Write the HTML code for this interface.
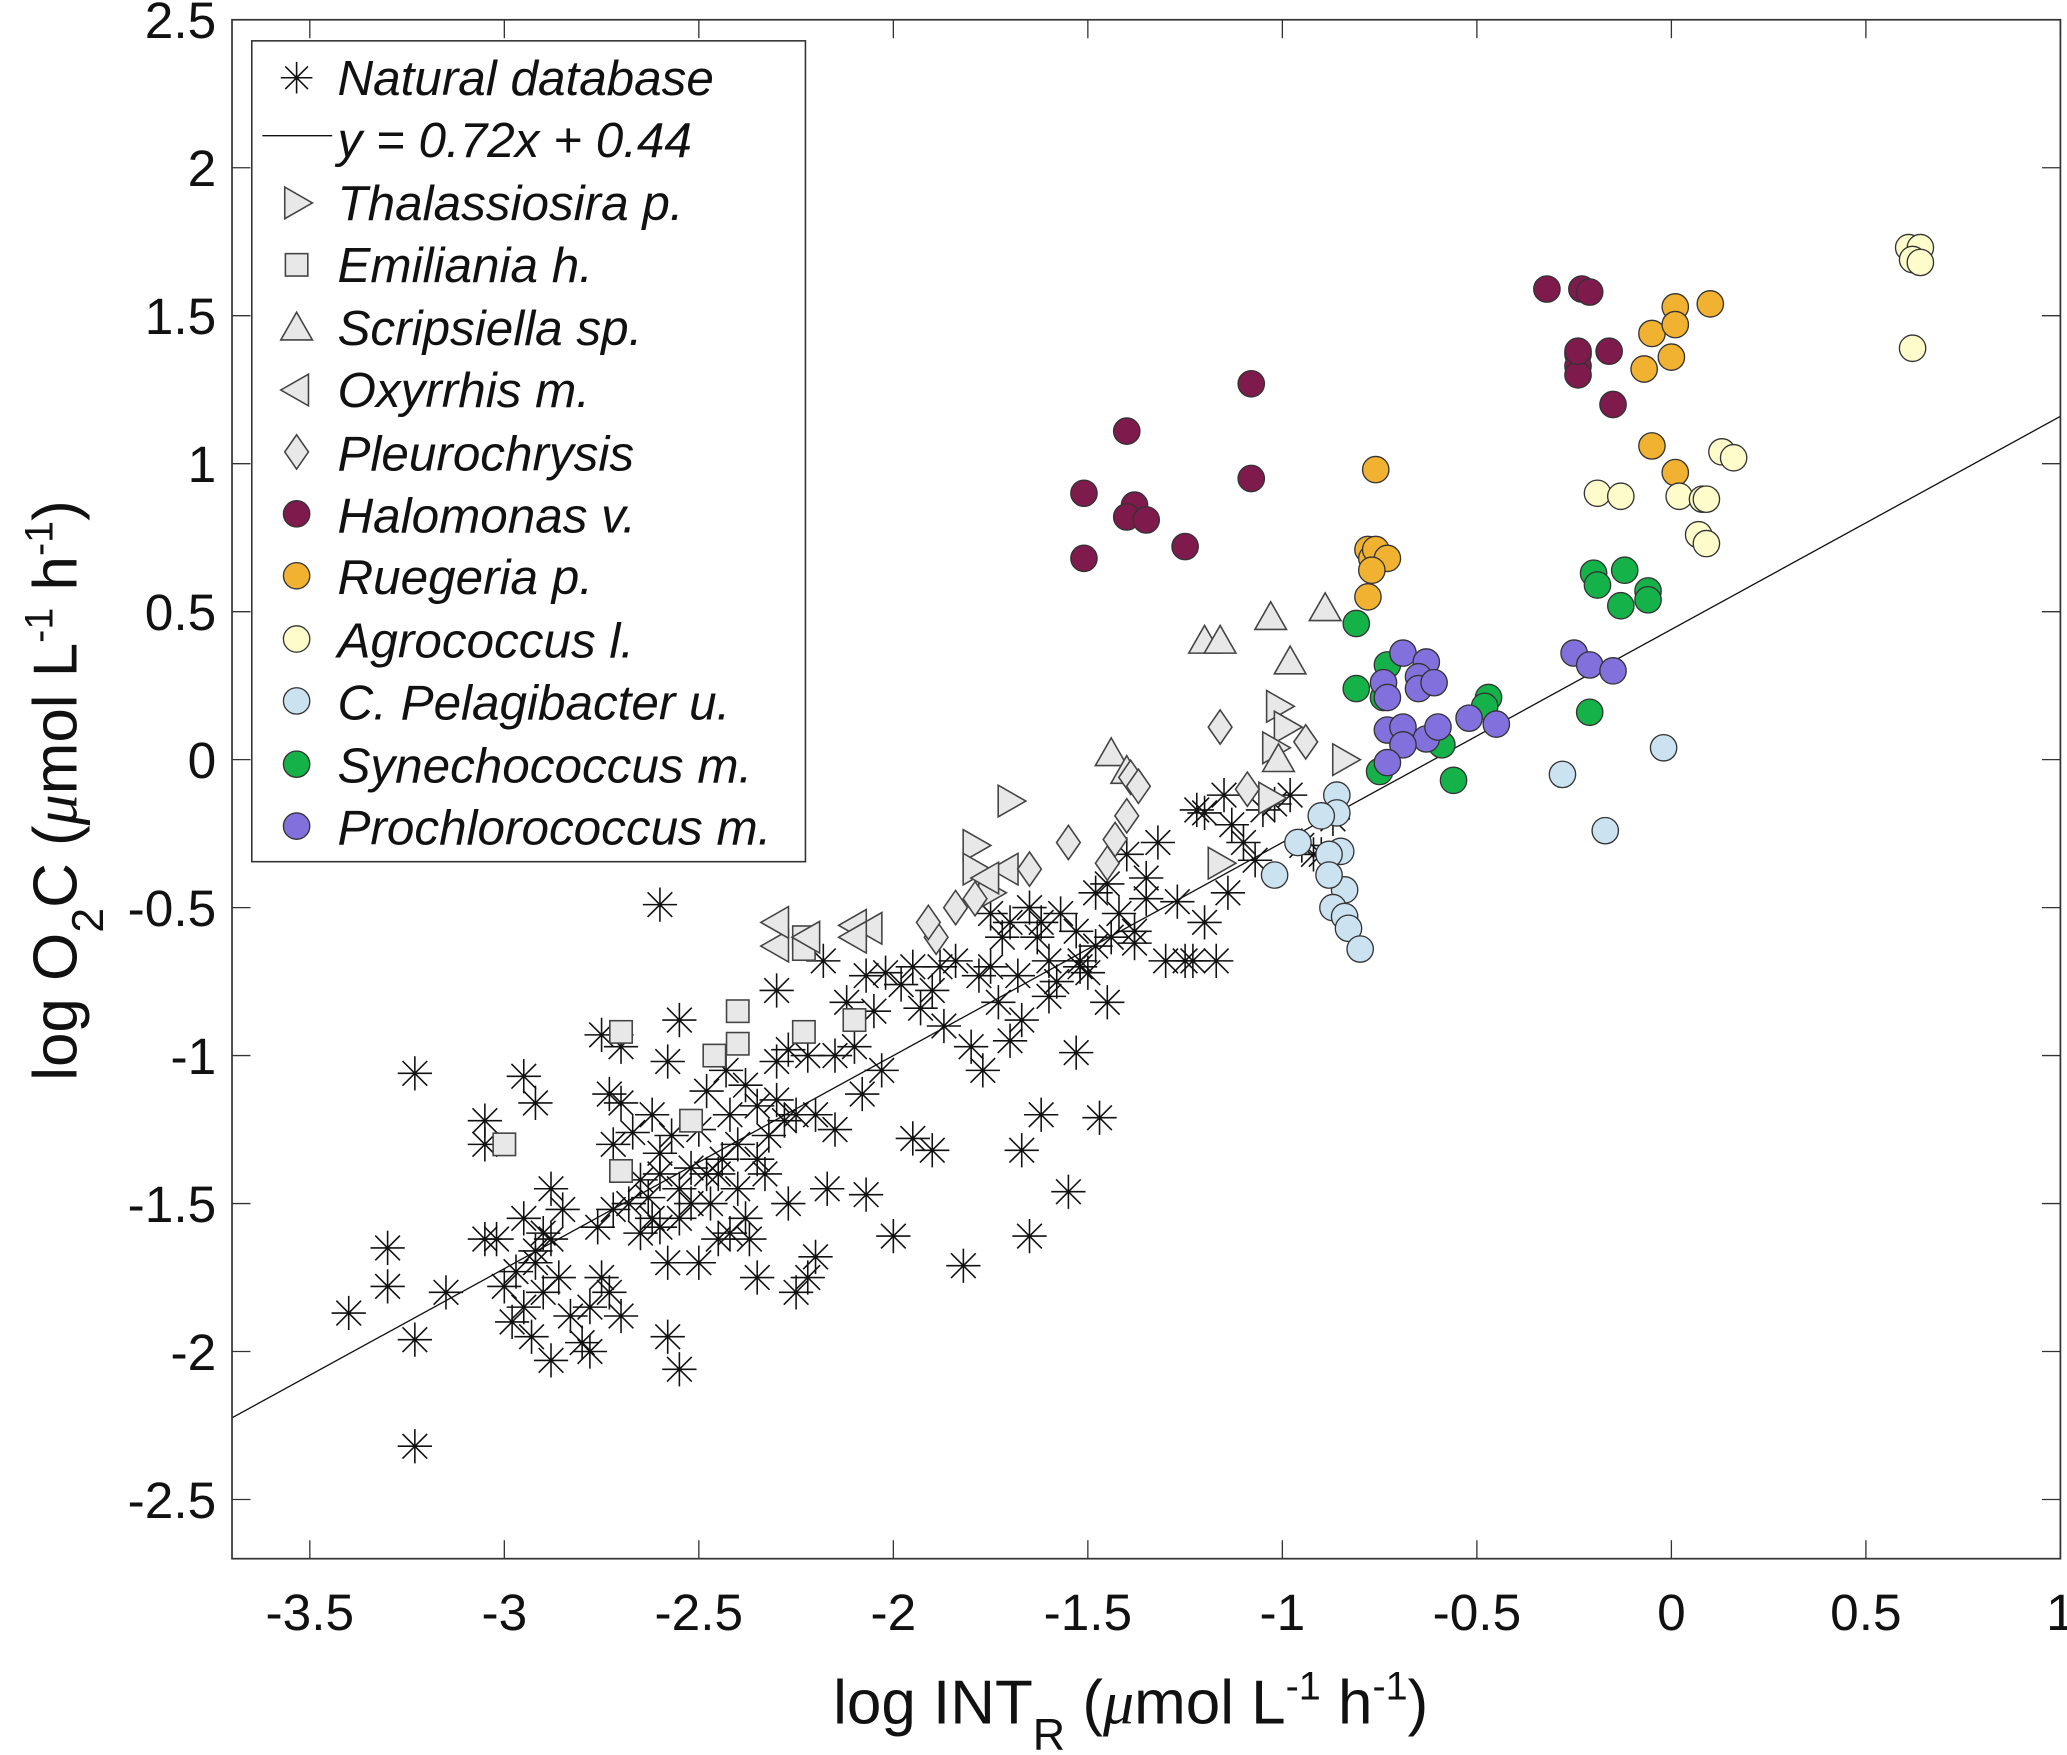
<!DOCTYPE html>
<html><head><meta charset="utf-8"><style>
html,body{margin:0;padding:0;background:#fff;}
svg{display:block;}
text{font-family:"Liberation Sans",Arial,sans-serif;fill:#111;}
</style></head><body>
<svg id="chart" width="2067" height="1755" viewBox="0 0 1568 1332" preserveAspectRatio="none" xmlns="http://www.w3.org/2000/svg">
<rect x="0" y="0" width="1568" height="1332" fill="#fff"/>
<g id="plot"></g>
<g id="axes"></g>
<g id="legend"></g>
</svg>
<script>
const xTicks=[-3.5,-3,-2.5,-2,-1.5,-1,-0.5,0,0.5,1];
const xTickLabels=["-3.5","-3","-2.5","-2","-1.5","-1","-0.5","0","0.5","1"];
const yTicks=[2.5,2,1.5,1,0.5,0,-0.5,-1,-1.5,-2,-2.5];
const yTickLabels=["2.5","2","1.5","1","0.5","0","-0.5","-1","-1.5","-2","-2.5"];
const fitSlope=0.72, fitIntercept=0.44;
const natX=[-3.40,-3.23,-3.23,-3.30,-3.30,-3.23,-3.15,-2.60,-2.58,-2.55,-1.82,-1.65,-1.55,-1.47,-1.53,-1.62,-1.67,-2.00,-1.90,-1.95,-2.07,-2.17,-1.22,-1.20,-1.45,-1.23,-1.14,-1.07,-0.95,-0.92,
-3.05,-3.05,-3.02,-3.05,-2.97,-2.95,-2.93,-2.98,-2.90,-2.92,-2.90,-2.88,-2.95,-2.92,-2.88,-2.85,-2.86,-2.83,-2.80,-2.88,-2.78,-2.75,-2.73,-2.72,-2.76,-2.78,-2.70,-2.95,-3.00,-2.92,
-2.75,-2.70,-2.73,-2.70,-2.72,-2.67,-2.65,-2.68,-2.62,-2.60,-2.62,-2.58,-2.55,-2.57,-2.55,-2.55,-2.52,-2.50,-2.50,-2.48,-2.47,-2.65,-2.60,-2.58,-2.63,-2.45,-2.45,
-2.43,-2.42,-2.40,-2.40,-2.38,-2.37,-2.35,-2.35,-2.33,-2.32,-2.30,-2.30,-2.28,-2.27,-2.25,-2.25,-2.22,-2.22,-2.20,-2.27,-2.38,-2.42,-2.18,-2.15,
-2.12,-2.10,-2.07,-2.05,-2.03,-2.02,-1.98,-1.95,-1.93,-1.90,-1.88,-1.87,-2.08,
-1.84,-1.80,-1.78,-1.77,-1.75,-1.73,-1.72,-1.70,-1.68,-1.67,-1.65,-1.63,-1.60,-1.58,-1.57,-1.70,-1.75,
-1.53,-1.52,-1.50,-1.48,-1.48,-1.45,-1.42,-1.40,-1.38,-1.35,-1.32,-1.30,-1.27,-1.25,-1.20,-1.17,-1.15,-1.13,-1.10,-1.05,-1.02,-0.98,-0.90,-0.87,-1.35,-1.44,
-2.48,-2.35,-2.20,-2.60,-2.52,-2.44,-2.30,-2.15,-1.60,-1.52,-1.38,-1.62];
const natY=[-1.87,-2.32,-1.06,-1.65,-1.78,-1.96,-1.80,-0.49,-1.95,-2.06,-1.71,-1.61,-1.46,-1.21,-0.99,-1.20,-1.32,-1.61,-1.32,-1.28,-1.47,-1.45,-0.17,-0.18,-0.82,-0.68,-0.45,-0.34,-0.29,-0.32,
-1.22,-1.30,-1.62,-1.62,-1.73,-1.85,-1.95,-1.90,-1.80,-1.70,-1.60,-1.62,-1.07,-1.16,-1.45,-1.52,-1.75,-1.88,-1.97,-2.03,-2.00,-1.75,-1.80,-1.52,-1.58,-1.85,-1.88,-1.55,-1.78,-1.66,
-0.93,-0.97,-1.13,-1.16,-1.30,-1.26,-1.42,-1.50,-1.55,-1.33,-1.20,-1.02,-0.88,-1.27,-1.45,-1.55,-1.38,-1.25,-1.70,-1.12,-1.50,-1.60,-1.58,-1.70,-1.48,-1.40,-1.62,
-1.05,-1.20,-1.30,-1.45,-1.55,-1.62,-1.17,-1.75,-1.40,-1.27,-0.78,-1.02,-1.22,-1.50,-1.20,-1.80,-1.75,-1.00,-1.68,-0.98,-1.10,-1.60,-0.68,-1.25,
-0.82,-0.97,-0.73,-0.85,-1.05,-0.72,-0.76,-0.70,-0.84,-0.78,-0.70,-0.90,-1.13,
-0.68,-0.97,-0.73,-1.05,-0.70,-0.82,-0.60,-0.55,-0.73,-0.88,-0.50,-0.60,-0.68,-0.75,-0.52,-0.95,-0.52,
-0.58,-0.68,-0.72,-0.45,-0.63,-0.42,-0.52,-0.32,-0.58,-0.47,-0.28,-0.68,-0.48,-0.68,-0.55,-0.68,-0.12,-0.22,-0.28,-0.17,-0.15,-0.12,-0.32,-0.20,-0.40,-0.60,
-1.40,-1.35,-1.20,-1.40,-1.50,-1.35,-1.15,-1.00,-0.80,-0.70,-0.62,-0.55];
const thalX=[-1.01,-0.99,-1.02,-0.84,-1.70,-1.79,-1.03,-1.16,-1.79,-1.75];
const thalY=[0.18,0.11,0.04,0.00,-0.14,-0.29,-0.13,-0.35,-0.37,-0.45];
const emilX=[-2.70,-2.40,-2.40,-2.23,-2.23,-2.23,-2.10,-2.52,-2.70,-3.00,-2.46];
const emilY=[-0.92,-0.85,-0.96,-0.60,-0.64,-0.92,-0.88,-1.22,-1.39,-1.30,-1.00];
const scriX=[-1.03,-0.89,-1.20,-1.16,-0.98,-1.44,-1.01,-1.40];
const scriY=[0.48,0.51,0.40,0.40,0.33,0.02,0.00,-0.04];
const oxyX=[-2.30,-2.10,-2.06,-2.22,-2.10,-1.71,-1.76,-2.30];
const oxyY=[-0.63,-0.56,-0.57,-0.60,-0.60,-0.37,-0.40,-0.55];
const pleuX=[-1.16,-0.94,-1.39,-1.37,-1.09,-1.55,-1.43,-1.40,-1.89,-1.84,-1.79,-1.65,-1.91,-1.45];
const pleuY=[0.11,0.06,-0.06,-0.09,-0.10,-0.28,-0.27,-0.19,-0.60,-0.50,-0.47,-0.37,-0.55,-0.35];
const haloX=[-1.51,-1.51,-1.40,-1.38,-1.40,-1.35,-1.25,-1.08,-1.08,-0.32,-0.23,-0.21,-0.24,-0.24,-0.24,-0.16,-0.15,-0.24];
const haloY=[0.90,0.68,1.11,0.86,0.82,0.81,0.72,1.27,0.95,1.59,1.59,1.58,1.37,1.33,1.30,1.38,1.20,1.38];
const ruegX=[-0.76,-0.78,-0.77,-0.76,-0.73,-0.77,-0.78,0.01,-0.05,0.01,0.10,0.00,-0.07,-0.05,0.01];
const ruegY=[0.98,0.71,0.68,0.71,0.68,0.64,0.55,1.53,1.44,1.47,1.54,1.36,1.32,1.06,0.97];
const agroX=[0.61,0.64,0.62,0.64,0.62,-0.19,-0.13,0.02,0.08,0.07,0.09,0.13,0.16,0.09];
const agroY=[1.73,1.73,1.69,1.68,1.39,0.90,0.89,0.89,0.88,0.76,0.73,1.04,1.02,0.88];
const pelaX=[-0.86,-0.86,-0.96,-0.85,-0.88,-0.84,-0.88,-1.02,-0.87,-0.84,-0.83,-0.80,-0.28,-0.02,-0.17,-0.90];
const pelaY=[-0.12,-0.18,-0.28,-0.31,-0.32,-0.44,-0.39,-0.39,-0.50,-0.53,-0.57,-0.64,-0.05,0.04,-0.24,-0.19];
const synX=[-0.81,-0.73,-0.81,-0.74,-0.47,-0.48,-0.56,-0.75,-0.59,-0.21,-0.20,-0.19,-0.12,-0.06,-0.06,-0.13];
const synY=[0.46,0.32,0.24,0.21,0.21,0.18,-0.07,-0.04,0.05,0.16,0.63,0.59,0.64,0.57,0.54,0.52];
const prochX=[-0.69,-0.63,-0.65,-0.65,-0.61,-0.74,-0.73,-0.73,-0.69,-0.63,-0.60,-0.69,-0.73,-0.52,-0.45,-0.25,-0.21,-0.15];
const prochY=[0.36,0.33,0.28,0.24,0.26,0.26,0.21,0.10,0.11,0.07,0.11,0.05,-0.01,0.14,0.12,0.36,0.32,0.30];

const X0=176,X1=1563,Y0=15,Y1=1183;
const xMin=-3.7,xMax=1.0,yMin=-2.7,yMax=2.5;
function sx(v){return X0+(v-xMin)/(xMax-xMin)*(X1-X0);}
function sy(v){return Y1-(v-yMin)/(yMax-yMin)*(Y1-Y0);}
const NS="http://www.w3.org/2000/svg";
function mk(tag,attrs,parent){const e=document.createElementNS(NS,tag);for(const k in attrs)e.setAttribute(k,attrs[k]);parent.appendChild(e);return e;}
const plot=document.getElementById('plot'),axes=document.getElementById('axes');

function asterisk(cx,cy,r,parent){
  const d=r*0.72;
  return mk('path',{d:`M${cx-r},${cy}H${cx+r}M${cx},${cy-r}V${cy+r}M${cx-d},${cy-d}L${cx+d},${cy+d}M${cx-d},${cy+d}L${cx+d},${cy-d}`,stroke:'#111','stroke-width':1.2,fill:'none'},parent);
}
function shape(kind,cx,cy,fill,parent){
  const g='#444';
  if(kind==='circle')return mk('circle',{cx:cx,cy:cy,r:10,fill:fill,stroke:'#333','stroke-width':1},parent);
  if(kind==='square')return mk('rect',{x:cx-8.5,y:cy-8.5,width:17,height:17,fill:fill,stroke:g,'stroke-width':1.2},parent);
  if(kind==='tri-up')return mk('polygon',{points:`${cx},${cy-12} ${cx+12},${cy+9} ${cx-12},${cy+9}`,fill:fill,stroke:g,'stroke-width':1.2},parent);
  if(kind==='tri-right')return mk('polygon',{points:`${cx+12},${cy} ${cx-9},${cy-12} ${cx-9},${cy+12}`,fill:fill,stroke:g,'stroke-width':1.2},parent);
  if(kind==='tri-left')return mk('polygon',{points:`${cx-12},${cy} ${cx+9},${cy-12} ${cx+9},${cy+12}`,fill:fill,stroke:g,'stroke-width':1.2},parent);
  if(kind==='diamond')return mk('polygon',{points:`${cx},${cy-13} ${cx+9},${cy} ${cx},${cy+13} ${cx-9},${cy}`,fill:fill,stroke:g,'stroke-width':1.2},parent);
}

natX.forEach((v,i)=>{
  const el=asterisk(sx(v),sy(natY[i]),13,plot);
  
  
});
const fl=mk('line',{x1:sx(xMin),y1:sy(fitSlope*xMin+fitIntercept),x2:sx(xMax),y2:sy(fitSlope*xMax+fitIntercept),stroke:'#111','stroke-width':1},plot);



const series=[
 {xs:thalX,ys:thalY,kind:'tri-right',fill:'#e8e8e8',name:'thalassiosira-point'},
 {xs:emilX,ys:emilY,kind:'square',fill:'#e8e8e8',name:'emiliania-point'},
 {xs:scriX,ys:scriY,kind:'tri-up',fill:'#e8e8e8',name:'scripsiella-point'},
 {xs:oxyX,ys:oxyY,kind:'tri-left',fill:'#e8e8e8',name:'oxyrrhis-point'},
 {xs:pleuX,ys:pleuY,kind:'diamond',fill:'#e8e8e8',name:'pleurochrysis-point'},
 {xs:haloX,ys:haloY,kind:'circle',fill:'#7f1a4c',name:'halomonas-point'},
 {xs:ruegX,ys:ruegY,kind:'circle',fill:'#f1b131',name:'ruegeria-point'},
 {xs:agroX,ys:agroY,kind:'circle',fill:'#fdfcca',name:'agrococcus-point'},
 {xs:pelaX,ys:pelaY,kind:'circle',fill:'#cbe3f0',name:'pelagibacter-point'},
 {xs:synX,ys:synY,kind:'circle',fill:'#15b24a',name:'synechococcus-point'},
 {xs:prochX,ys:prochY,kind:'circle',fill:'#8271dc',name:'prochlorococcus-point'}
];
series.forEach(s=>{
  s.xs.forEach((v,i)=>{
    const el=shape(s.kind,sx(v),sy(s.ys[i]),s.fill,plot);
    
    
  });
});

const box=mk('rect',{x:X0,y:Y0,width:X1-X0,height:Y1-Y0,fill:'none',stroke:'#333','stroke-width':1.3},axes);


xTicks.forEach((v,i)=>{
  const x=sx(v);
  mk('line',{x1:x,y1:Y1,x2:x,y2:Y1-14,stroke:'#333','stroke-width':1},axes);
  mk('line',{x1:x,y1:Y0,x2:x,y2:Y0+14,stroke:'#333','stroke-width':1},axes);
  const t=mk('text',{x:x,y:1237,'text-anchor':'middle','font-size':39},axes);
  t.textContent=xTickLabels[i];
  
  
});
yTicks.forEach((v,i)=>{
  const y=sy(v);
  mk('line',{x1:X0,y1:y,x2:X0+14,y2:y,stroke:'#333','stroke-width':1},axes);
  mk('line',{x1:X1,y1:y,x2:X1-14,y2:y,stroke:'#333','stroke-width':1},axes);
  const t=mk('text',{x:164,y:y+14,'text-anchor':'end','font-size':39},axes);
  t.textContent=yTickLabels[i];
  
  
});
</script>
<svg style="position:absolute;left:0;top:0;pointer-events:none" width="2067" height="1755" viewBox="0 0 1568 1332" preserveAspectRatio="none" xmlns="http://www.w3.org/2000/svg">
<text x="632" y="1308" font-size="47" style="font-family:'Liberation Sans',sans-serif;fill:#111">log INT<tspan font-size="34" dy="20">R</tspan><tspan dy="-20"> (</tspan><tspan font-family="Liberation Serif" font-style="italic">μ</tspan>mol L<tspan font-size="30" dy="-18">-1</tspan><tspan dy="18"> h</tspan><tspan font-size="30" dy="-18">-1</tspan><tspan dy="18">)</tspan></text>
<text transform="translate(58,600) rotate(-90)" text-anchor="middle" font-size="47" style="font-family:'Liberation Sans',sans-serif;fill:#111">log O<tspan font-size="34" dy="20">2</tspan><tspan dy="-20">C (</tspan><tspan font-family="Liberation Serif" font-style="italic">μ</tspan>mol L<tspan font-size="30" dy="-18">-1</tspan><tspan dy="18"> h</tspan><tspan font-size="30" dy="-18">-1</tspan><tspan dy="18">)</tspan></text>
<g style="font-family:'Liberation Sans',sans-serif">
<rect x="191" y="31" width="420" height="623" fill="#fff" stroke="#333" stroke-width="1.2"/>
<g font-size="37.5" font-style="italic" fill="#111">
<g><path d="M213,59H237M225,47V71M216.4,50.4L233.6,67.6M216.4,67.6L233.6,50.4" stroke="#111" stroke-width="1.2"/><text x="256" y="72">Natural database</text></g>
<g><line x1="199" y1="103" x2="252" y2="103" stroke="#111" stroke-width="1"/><text x="256" y="119">y = 0.72x + 0.44</text></g>
<g><polygon points="237,154 216,142 216,166" fill="#e8e8e8" stroke="#444" stroke-width="1.2"/><text x="256" y="167">Thalassiosira p.</text></g>
<g><rect x="216.5" y="192.5" width="17" height="17" fill="#e8e8e8" stroke="#444" stroke-width="1.2"/><text x="256" y="214">Emiliania h.</text></g>
<g><polygon points="225,237 237,258 213,258" fill="#e8e8e8" stroke="#444" stroke-width="1.2"/><text x="256" y="262">Scripsiella sp.</text></g>
<g><polygon points="213,296 234,284 234,308" fill="#e8e8e8" stroke="#444" stroke-width="1.2"/><text x="256" y="309">Oxyrrhis m.</text></g>
<g><polygon points="225,330 234,343 225,356 216,343" fill="#e8e8e8" stroke="#444" stroke-width="1.2"/><text x="256" y="357">Pleurochrysis</text></g>
<g><circle cx="225" cy="390" r="10" fill="#7f1a4c" stroke="#333"/><text x="256" y="404">Halomonas v.</text></g>
<g><circle cx="225" cy="437" r="10" fill="#f1b131" stroke="#333"/><text x="256" y="451">Ruegeria p.</text></g>
<g><circle cx="225" cy="485" r="10" fill="#fdfcca" stroke="#333"/><text x="256" y="499">Agrococcus l.</text></g>
<g><circle cx="225" cy="532" r="10" fill="#cbe3f0" stroke="#333"/><text x="256" y="546">C. Pelagibacter u.</text></g>
<g><circle cx="225" cy="580" r="10" fill="#15b24a" stroke="#333"/><text x="256" y="594">Synechococcus m.</text></g>
<g><circle cx="225" cy="627" r="10" fill="#8271dc" stroke="#333"/><text x="256" y="641">Prochlorococcus m.</text></g>
</g>
</g>
</svg>
</body></html>
